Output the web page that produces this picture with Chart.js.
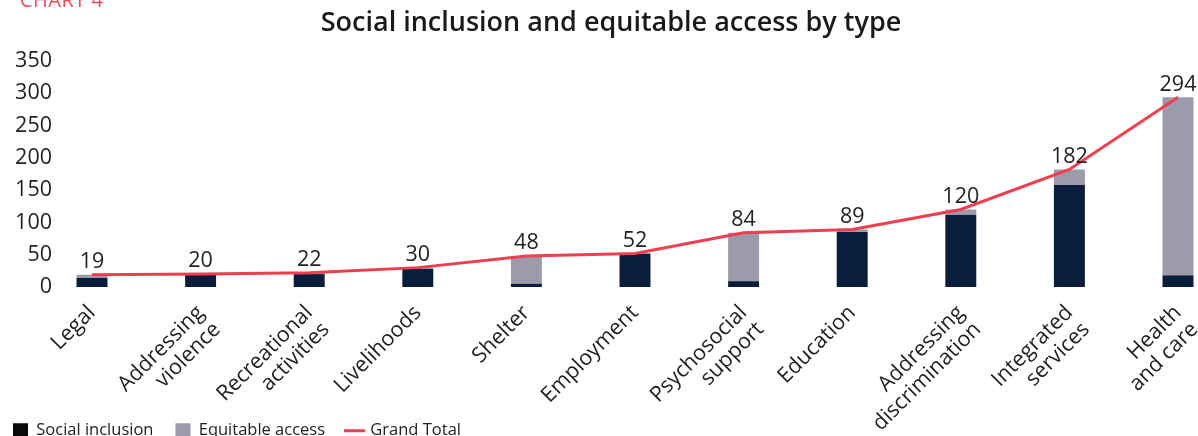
<!DOCTYPE html>
<html>
<head>
<meta charset="utf-8">
<script src="https://cdn.jsdelivr.net/npm/chart.js@4"></script>
<style>
  html, body { margin: 0; padding: 0; background: #fff; overflow: hidden; }
  #wrap { position: relative; width: 1231px; height: 449px; }
  #chartLabel { position: absolute; left: 20px; top: -14px; font: 20px "Open Sans", sans-serif; color: #f04a5c; letter-spacing: 0.5px; }
</style>
</head>
<body>
<div id="wrap">
  <div id="chartLabel">CHART 4</div>
  <canvas id="chart"></canvas>
</div>
<script>
// Data
const categories = [
  ['Legal'], ['Addressing', 'violence'], ['Recreational', 'activities'], ['Livelihoods'],
  ['Shelter'], ['Employment'], ['Psychosocial', 'support'], ['Education'],
  ['Addressing', 'discrimination'], ['Integrated', 'services'], ['Health', 'and care']
];
const socialInclusion = [14, 19, 20, 28, 5, 52, 9, 85, 112, 158, 18];
const equitableAccess = [5, 1, 2, 2, 43, 0, 75, 4, 8, 24, 276];
const grandTotal = [19, 20, 22, 30, 48, 52, 84, 89, 120, 182, 294];
const yTicks = [0, 50, 100, 150, 200, 250, 300, 350];

const FONT = '"Open Sans", sans-serif';

// totals above the red line
const totalLabels = {
  id: 'totalLabels',
  afterDatasetsDraw(chart) {
    const meta = chart.getDatasetMeta(2);
    const ctx = chart.ctx;
    ctx.save();
    ctx.font = '21.5px ' + FONT;
    ctx.fillStyle = '#222';
    ctx.textAlign = 'center';
    ctx.textBaseline = 'bottom';
    meta.data.forEach((pt, i) => {
      ctx.fillText(String(grandTotal[i]), pt.x, pt.y - 2);
    });
    ctx.restore();
  }
};

const ctx = document.getElementById('chart').getContext('2d');
new Chart(ctx, {
  data: {
    labels: categories,
    datasets: [{
      type: 'bar',
      label: 'Social inclusion',
      data: socialInclusion,
      backgroundColor: '#0b1d3c',
      clip: false,
      order: 1
    }, {
      type: 'bar',
      label: 'Equitable access',
      data: equitableAccess,
      backgroundColor: '#9c9bab',
      clip: false,
      order: 1
    }, {
      type: 'line',
      label: 'Grand Total',
      data: grandTotal,
      borderColor: '#ee3e4f',
      backgroundColor: '#ee3e4f',
      borderWidth: 3,
      pointRadius: 0,
      tension: 0,
      clip: false,
      stack: 'total',
      order: 0
    }]
  },
  options: {
    responsive: true,
    maintainAspectRatio: false,
    animation: false,
    layout: { padding: { left: -9, right: 0, top: 0, bottom: 0 } },
    datasets: { bar: { categoryPercentage: 1, barPercentage: 0.285 } },
    plugins: {
      title: {
        display: true,
        text: 'Social inclusion and equitable access by type',
        color: '#1a1a1a',
        font: { family: FONT, size: 27, weight: '600' },
        padding: { top: 7, bottom: 21.6 }
      },
      legend: {
        position: 'bottom',
        align: 'start',
        labels: {
          color: '#222',
          font: { family: FONT, size: 16.5 },
          boxWidth: 15,
          boxHeight: 15,
          padding: 22,
          usePointStyle: true,
          sort: (a, b) => a.datasetIndex - b.datasetIndex,
          generateLabels: function(chart) {
            const items = Chart.defaults.plugins.legend.labels.generateLabels(chart);
            items.forEach(item => {
              if (item.datasetIndex === 2) {
                item.pointStyle = 'line';
                item.strokeStyle = '#ee3e4f';
                item.lineWidth = 3;
              } else {
                item.pointStyle = 'rect';
                item.lineWidth = 0;
                item.strokeStyle = 'transparent';
                if (item.datasetIndex === 0) item.fillStyle = '#0a0a0a';
              }
            });
            return items;
          }
        }
      },
      tooltip: { enabled: false }
    },
    scales: {
      x: {
        stacked: true,
        offset: false,
        grid: { display: false, drawTicks: false },
        border: { display: false },
        ticks: {
          color: '#222',
          font: { family: FONT, size: 21.5, lineHeight: 1.1 },
          minRotation: 45,
          maxRotation: 45,
          autoSkip: false,
          padding: 14
        },
        afterFit: function(scale) {
          scale.height = 113.5;
          scale.paddingLeft = 0;
          scale.paddingRight = 0;
          // let long labels run past the axis box, as in the original
          scale._computeLabelArea = function() { return undefined; };
        }
      },
      y: {
        stacked: true,
        min: 0,
        max: 350,
        grid: { display: false, drawTicks: false },
        border: { display: false },
        afterBuildTicks: function(scale) {
          scale.ticks = yTicks.map(v => ({ value: v }));
        },
        ticks: {
          color: '#222',
          font: { family: FONT, size: 21.5 },
          padding: 40
        },
        afterFit: function(scale) {
          scale.width = 101;
        }
      },
      // empty right axis: keeps the plot's right edge in place
      yRight: {
        position: 'right',
        min: 0,
        max: 350,
        grid: { display: false, drawTicks: false },
        border: { display: false },
        ticks: { display: false },
        afterFit: function(scale) {
          scale.width = 53;
        }
      }
    }
  },
  plugins: [totalLabels]
});
</script>
</body>
</html>
